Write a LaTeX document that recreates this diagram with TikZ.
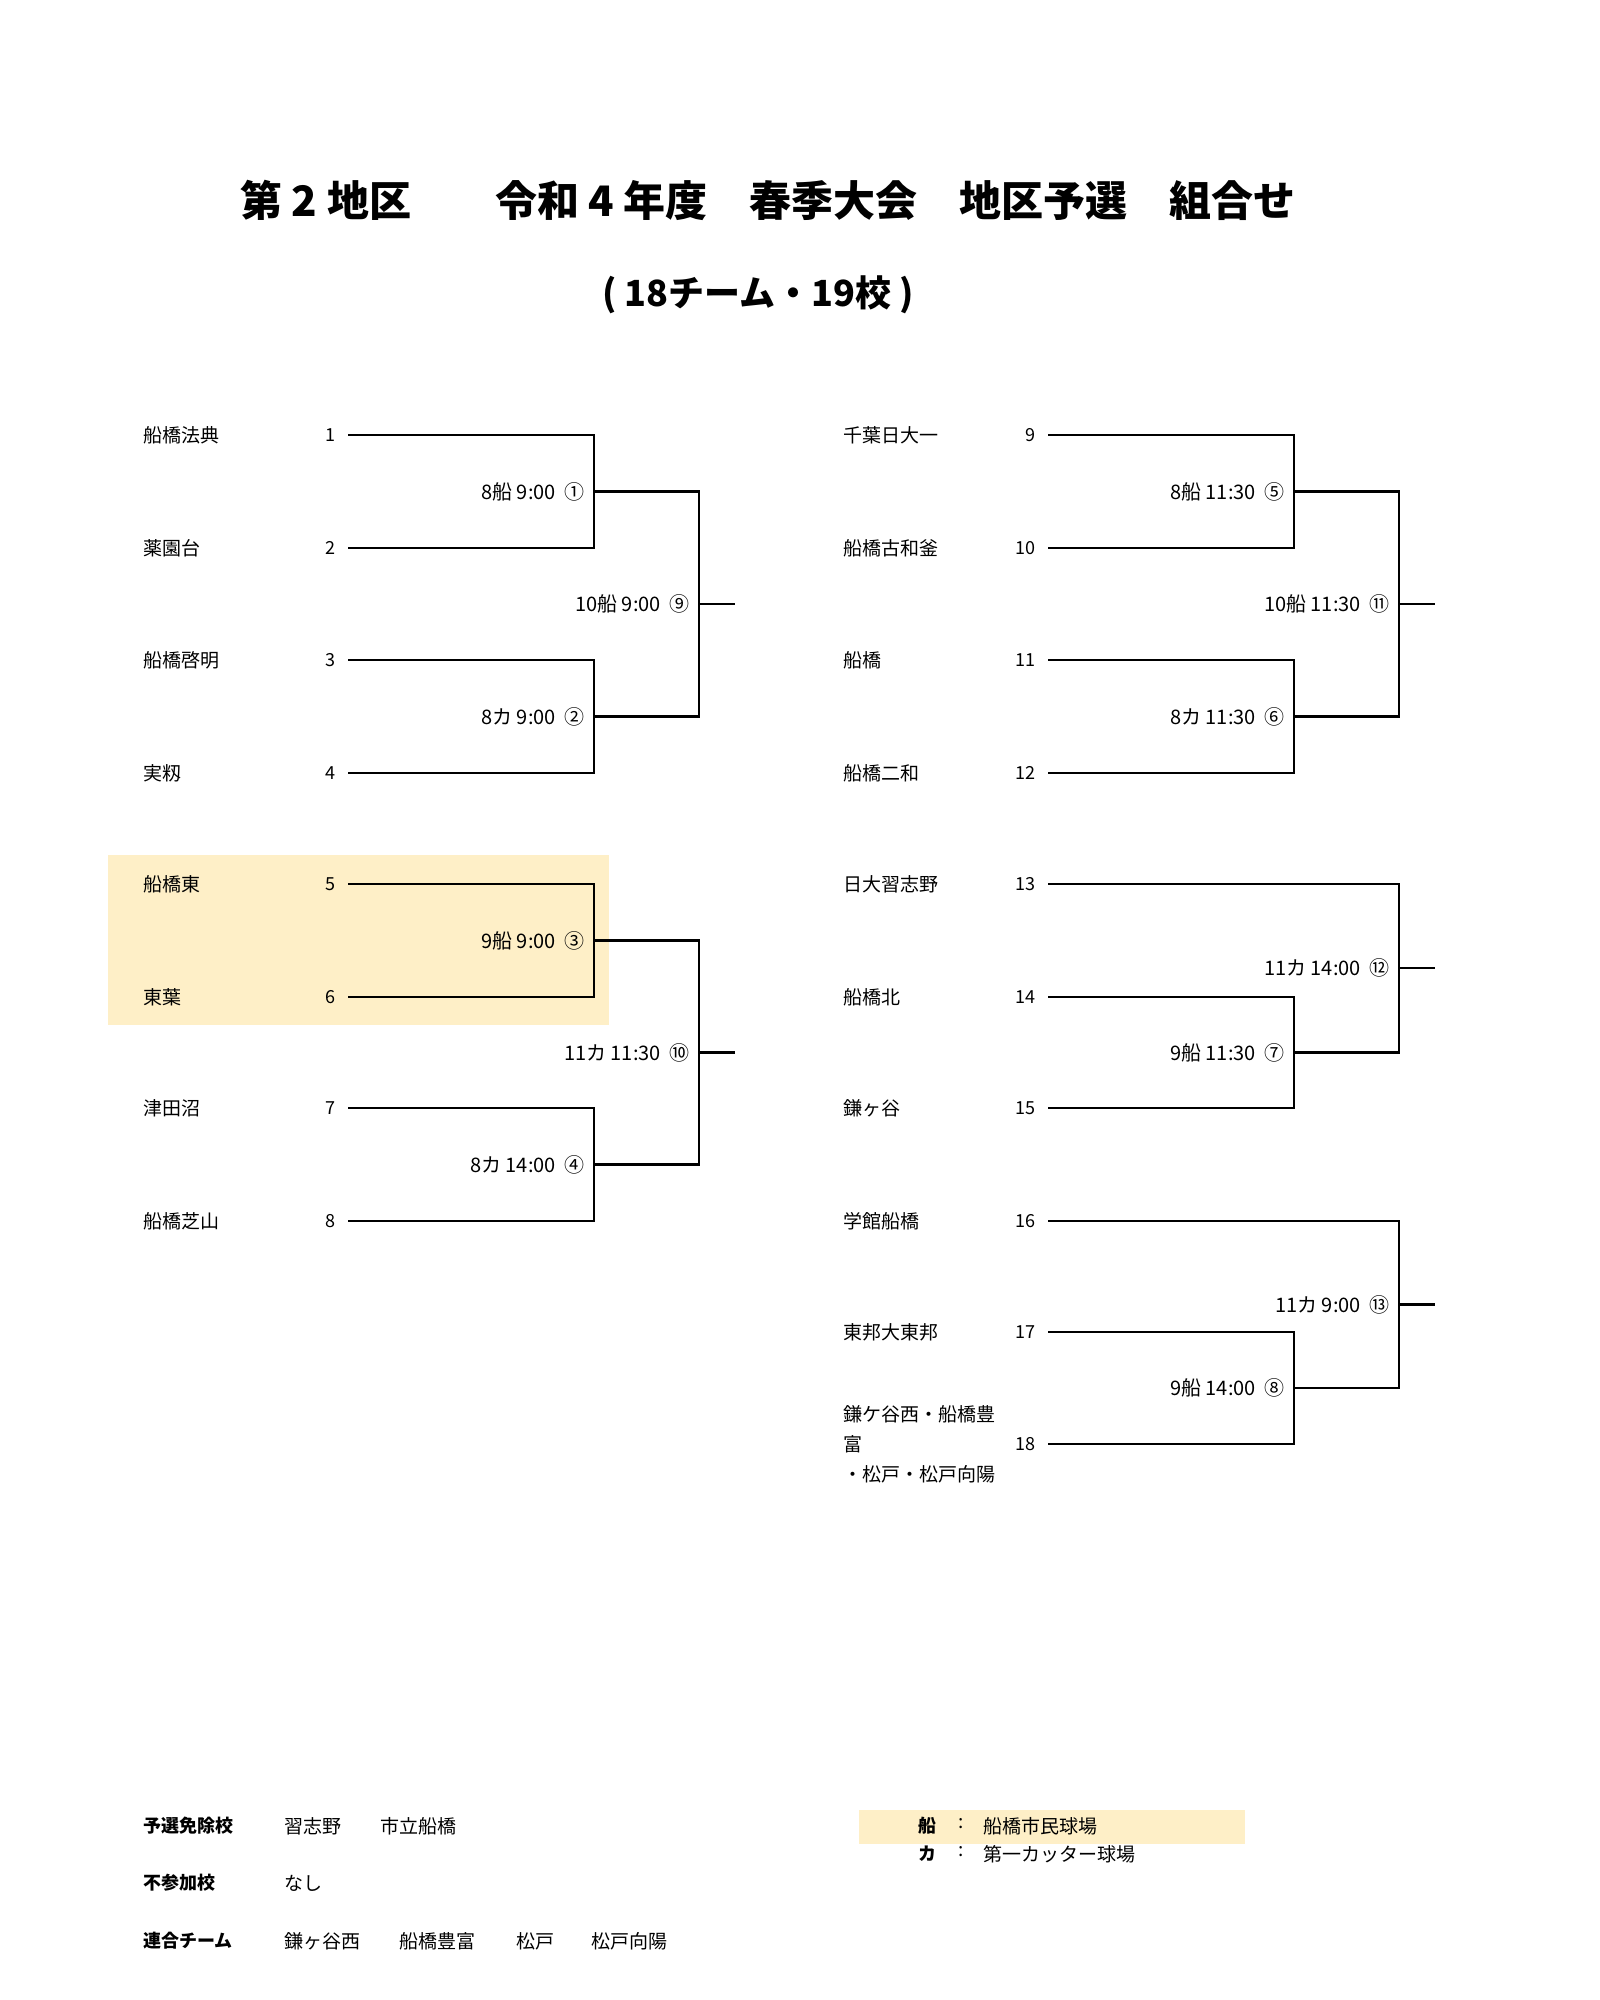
\documentclass[tikz,border=0pt]{standalone}
\usepackage{fontspec}
\setmainfont{Noto Sans CJK JP}
\tikzset{
  team/.style={anchor=west, inner sep=0pt, font=\fontsize{19}{30}\selectfont},
  seed/.style={anchor=east, inner sep=0pt, font=\fontsize{18}{22}\selectfont\rmfamily},
  game/.style={anchor=east, inner sep=0pt, xshift=-9pt, font=\fontsize{20}{22}\selectfont},
  bracket/.style={line width=2.8pt},
}
\begin{document}
\begin{tikzpicture}[x=1pt,y=-1pt]
  \useasboundingbox (0,0) rectangle (1600,2000);
  % highlighted block and legend
  \fill[yellow!45!orange!20] (108,855) rectangle (609,1025);
  \fill[yellow!45!orange!20] (859,1810) rectangle (1245,1844);

  \node[font=\fontsize{42}{48}\selectfont\bfseries] (title) at (768,200)
    {第 2 地区　　令和 4 年度　春季大会　地区予選　組合せ};
  \node[font=\fontsize{36}{42}\selectfont\bfseries] (sub) at (758,295)
    {( 18チーム・19校 )};

  % left half
  \foreach \i/\y/\name in {1/435/船橋法典, 2/548/薬園台, 3/660/船橋啓明, 4/773/実籾,
                           5/884/船橋東, 6/997/東葉, 7/1108/津田沼, 8/1221/船橋芝山} {
    \node[team] (n\i) at (143,\y) {\name};
    \node[seed] (s\i) at (336,\y) {\i};
    \coordinate (a\i) at (348,\y);
  }
  % right half
  \foreach \i/\y/\name in {9/435/千葉日大一, 10/548/船橋古和釜, 11/660/船橋, 12/773/船橋二和,
                           13/884/日大習志野, 14/997/船橋北, 15/1108/鎌ヶ谷, 16/1221/学館船橋,
                           17/1332/東邦大東邦} {
    \node[team] (n\i) at (843,\y) {\name};
    \node[seed] (s\i) at (1036,\y) {\i};
    \coordinate (a\i) at (1048,\y);
  }
  \node[team, align=left] (n18) at (843,1444) {鎌ケ谷西・船橋豊\\富\\・松戸・松戸向陽};
  \node[seed] (s18) at (1036,1444) {18};
  \coordinate (a18) at (1048,1444);

  % match points
  \coordinate (m1) at (594,491.5);
  \coordinate (m2) at (594,716.5);
  \coordinate (m3) at (594,940.5);
  \coordinate (m4) at (594,1164.5);
  \coordinate (m9) at (699,604);
  \coordinate (m10) at (699,1052.5);
  \coordinate (m5) at (1294,491.5);
  \coordinate (m6) at (1294,716.5);
  \coordinate (m7) at (1294,1052.5);
  \coordinate (m8) at (1294,1388);
  \coordinate (m11) at (1399,604);
  \coordinate (m12) at (1399,968);
  \coordinate (m13) at (1399,1304.5);

  % first round
  \foreach \m/\a/\b in {1/1/2, 2/3/4, 3/5/6, 4/7/8, 5/9/10, 6/11/12, 7/14/15, 8/17/18}
    \draw[bracket] (a\a) -| (m\m) |- (a\b);
  % second round
  \draw[bracket] (m1) -| (m9) |- (m2);
  \draw[bracket] (m3) -| (m10) |- (m4);
  \draw[bracket] (m5) -| (m11) |- (m6);
  \draw[bracket] (a13) -| (m12) |- (m7);
  \draw[bracket] (a16) -| (m13) |- (m8);
  \foreach \m in {9,10,11,12,13}
    \draw[bracket] (m\m) -- ++(36,0);

  % game labels
  \node[game] (g1) at (m1) {8船 9:00 \ ①};
  \node[game] (g2) at (m2) {8カ 9:00 \ ②};
  \node[game] (g3) at (m3) {9船 9:00 \ ③};
  \node[game] (g4) at (m4) {8カ 14:00 \ ④};
  \node[game] (g5) at (m5) {8船 11:30 \ ⑤};
  \node[game] (g6) at (m6) {8カ 11:30 \ ⑥};
  \node[game] (g7) at (m7) {9船 11:30 \ ⑦};
  \node[game] (g8) at (m8) {9船 14:00 \ ⑧};
  \node[game] (g9) at (m9) {10船 9:00 \ ⑨};
  \node[game] (g10) at (m10) {11カ 11:30 \ ⑩};
  \node[game] (g11) at (m11) {10船 11:30 \ ⑪};
  \node[game] (g12) at (m12) {11カ 14:00 \ ⑫};
  \node[game] (g13) at (m13) {11カ 9:00 \ ⑬};

  % footer
  \node[team, font=\fontsize{18}{22}\selectfont\bfseries] (f1) at (143,1826) {予選免除校};
  \node[team] (f1a) at (284,1826) {習志野};
  \node[team] (f1b) at (380,1826) {市立船橋};
  \node[team, font=\fontsize{18}{22}\selectfont\bfseries] (f2) at (143,1883) {不参加校};
  \node[team] (f2a) at (284,1883) {なし};
  \node[team, font=\fontsize{18}{22}\selectfont\bfseries] (f3) at (143,1941) {連合チーム};
  \node[team] (f3a) at (284,1941) {鎌ヶ谷西};
  \node[team] (f3b) at (399,1941) {船橋豊富};
  \node[team] (f3c) at (516,1941) {松戸};
  \node[team] (f3d) at (591,1941) {松戸向陽};

  \node[team, font=\fontsize{18}{22}\selectfont\bfseries] (l1) at (918,1826) {船};
  \node[team] (l1c) at (958,1824) {:};
  \node[team] (l1t) at (983,1826) {船橋市民球場};
  \node[team, font=\fontsize{18}{22}\selectfont\bfseries] (l2) at (918,1854) {カ};
  \node[team] (l2c) at (958,1852) {:};
  \node[team] (l2t) at (983,1854) {第一カッター球場};
\end{tikzpicture}
\end{document}
